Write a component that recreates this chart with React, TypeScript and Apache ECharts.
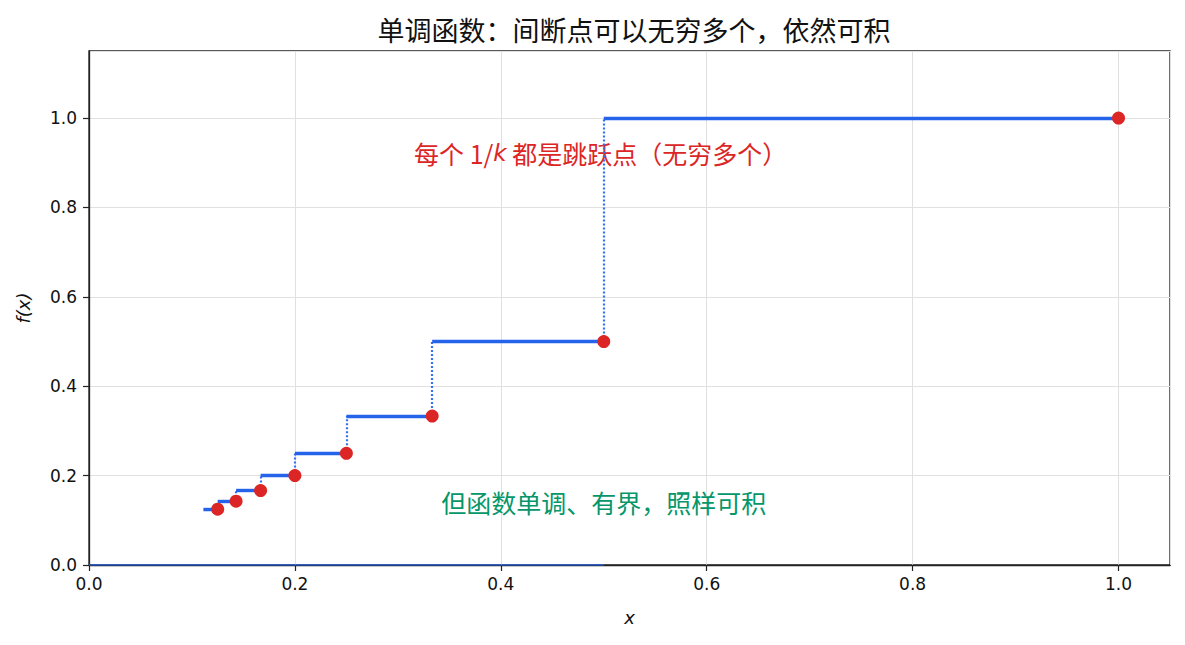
import React, { useEffect, useRef } from "react";
import * as echarts from "echarts";

const titleText = "单调函数：间断点可以无穷多个，依然可积";
const xTicks = [0, 0.2, 0.4, 0.6, 0.8, 1.0];
const yTicks = [0, 0.2, 0.4, 0.6, 0.8, 1.0];

// horizontal pieces of the step function: value 1/k on (1/(k+1), 1/k]
const segLeft = [0.5, 1 / 3, 0.25, 0.2, 1 / 6, 1 / 7, 0.125, 1 / 9];
const segRight = [1, 0.5, 1 / 3, 0.25, 0.2, 1 / 6, 1 / 7, 0.125];
const segLevel = [1, 0.5, 1 / 3, 0.25, 0.2, 1 / 6, 1 / 7, 0.125];

// dotted jumps
const jumpX = [0.5, 1 / 3, 0.25, 0.2, 1 / 6, 1 / 7, 0.125];
const jumpLow = [0.5, 1 / 3, 0.25, 0.2, 1 / 6, 1 / 7, 0.125];
const jumpHigh = [1, 0.5, 1 / 3, 0.25, 0.2, 1 / 6, 1 / 7];

// jump points (red dots)
const dotX = [1, 0.5, 1 / 3, 0.25, 0.2, 1 / 6, 1 / 7, 0.125];
const dotY = [1, 0.5, 1 / 3, 0.25, 0.2, 1 / 6, 1 / 7, 0.125];

// baseline piece at zero
const zeroX = [0, 0.5];
const zeroY = [0, 0];

const noteRed = { x: 0.497, y: 0.922 };
const noteGreen = { x: 0.5, y: 0.14, text: "但函数单调、有界，照样可积" };

const BLUE = "#2563eb";
const DOT_BLUE = "#3571ee";
const RED = "#dc2626";
const GREEN = "#059669";
const CJK = "'Noto Sans CJK SC', 'DejaVu Sans', sans-serif";
const NUM = "'DejaVu Sans', sans-serif";

export default function App() {
  const ref = useRef<HTMLDivElement>(null);
  useEffect(() => {
    if (!ref.current) return;
    const chart = echarts.init(ref.current, null, { renderer: "svg" });
    const segData = segLeft.map((l, i) => ({
      coords: [
        [l, segLevel[i]],
        [segRight[i], segLevel[i]],
      ],
    }));
    const jumpData = jumpX.map((x, i) => ({
      coords: [
        [x, jumpLow[i]],
        [x, jumpHigh[i]],
      ],
    }));
    const hideLast = (v: number, max: number) => Math.abs(v - max) > 1e-9;
    chart.setOption({
      animation: false,
      backgroundColor: "#ffffff",
      title: {
        text: titleText,
        left: 629,
        textAlign: "center",
        top: 11,
        textStyle: { fontFamily: CJK, fontSize: 27, fontWeight: "normal", color: "#111" },
      },
      grid: {
        left: 89,
        top: 51,
        width: 1081,
        height: 514,
        show: true,
        borderColor: "#222",
        borderWidth: 1.3,
        backgroundColor: "transparent",
      },
      xAxis: {
        type: "value",
        min: 0,
        max: 1.05,
        interval: 0.2,
        name: "x",
        nameLocation: "middle",
        nameGap: 43,
        nameTextStyle: { fontFamily: NUM, fontStyle: "italic", fontSize: 18, color: "#111" },
        axisLine: { show: true, onZero: false, lineStyle: { color: "#222", width: 1.3 } },
        axisTick: {
          show: true,
          length: 6,
          lineStyle: { color: "#222", width: 1.2 },
          interval: (_i: number, v: number) => hideLast(v, 1.05),
        },
        axisLabel: {
          margin: 10,
          fontFamily: NUM,
          fontSize: 17,
          color: "#111",
          showMaxLabel: false,
          formatter: (v: number) => (xTicks.some((t) => Math.abs(t - v) < 1e-9) ? v.toFixed(1) : ""),
        },
        splitLine: {
          show: true,
          lineStyle: { color: "#e0e0e0", width: 1 },
        },
      },
      yAxis: {
        type: "value",
        min: 0,
        max: 1.15,
        interval: 0.2,
        name: "f(x)",
        nameLocation: "middle",
        nameGap: 57,
        nameRotate: 90,
        nameTextStyle: { fontFamily: NUM, fontStyle: "italic", fontSize: 18, color: "#111" },
        axisLine: { show: true, onZero: false, lineStyle: { color: "#222", width: 1.3 } },
        axisTick: {
          show: true,
          length: 6,
          lineStyle: { color: "#222", width: 1.2 },
          interval: (_i: number, v: number) => hideLast(v, 1.15),
        },
        axisLabel: {
          margin: 12,
          fontFamily: NUM,
          fontSize: 17,
          color: "#111",
          showMaxLabel: false,
          formatter: (v: number) => (yTicks.some((t) => Math.abs(t - v) < 1e-9) ? v.toFixed(1) : ""),
        },
        splitLine: {
          show: true,
          lineStyle: { color: "#e0e0e0", width: 1 },
        },
      },
      series: [
        {
          type: "scatter",
          name: "notes",
          z: 1,
          symbolSize: 0,
          silent: true,
          itemStyle: { opacity: 1 },
          data: [
            {
              value: [noteRed.x, noteRed.y],
              label: {
                show: true,
                position: "inside",
                formatter: "{a|每个 1/}{i|k}{a| 都是跳跃点（无穷多个）}",
                rich: {
                  a: { fontFamily: CJK, fontSize: 25, color: RED },
                  i: { fontFamily: NUM, fontStyle: "italic", fontSize: 23, color: RED },
                },
              },
            },
            {
              value: [noteGreen.x, noteGreen.y],
              label: {
                show: true,
                position: "inside",
                formatter: noteGreen.text,
                fontFamily: CJK,
                fontSize: 25,
                color: GREEN,
              },
            },
          ],
        },
        {
          type: "lines",
          name: "zero",
          coordinateSystem: "cartesian2d",
          z: 6,
          silent: true,
          lineStyle: { color: BLUE, width: 1.5, opacity: 0.9 },
          data: [
            {
              coords: [
                [zeroX[0], zeroY[0]],
                [zeroX[1], zeroY[1]],
              ],
            },
          ],
        },
        {
          type: "lines",
          name: "jumps",
          coordinateSystem: "cartesian2d",
          z: 3,
          silent: true,
          lineStyle: { color: DOT_BLUE, width: 2.2, type: [2, 2], cap: "butt", opacity: 1 },
          data: jumpData,
        },
        {
          type: "lines",
          name: "steps",
          coordinateSystem: "cartesian2d",
          z: 4,
          silent: true,
          lineStyle: { color: BLUE, width: 3.4, opacity: 1 },
          data: segData,
        },
        {
          type: "scatter",
          name: "dots",
          z: 5,
          symbol: "circle",
          symbolSize: 13,
          itemStyle: { color: RED, opacity: 1 },
          data: dotX.map((x, i) => [x, dotY[i]]),
        },
      ],
    });
    return () => chart.dispose();
  }, []);
  return (
    <div
      ref={ref}
      style={{ position: "fixed", left: 0, top: 0, width: "1185px", height: "645px", background: "#fff" }}
    />
  );
}
